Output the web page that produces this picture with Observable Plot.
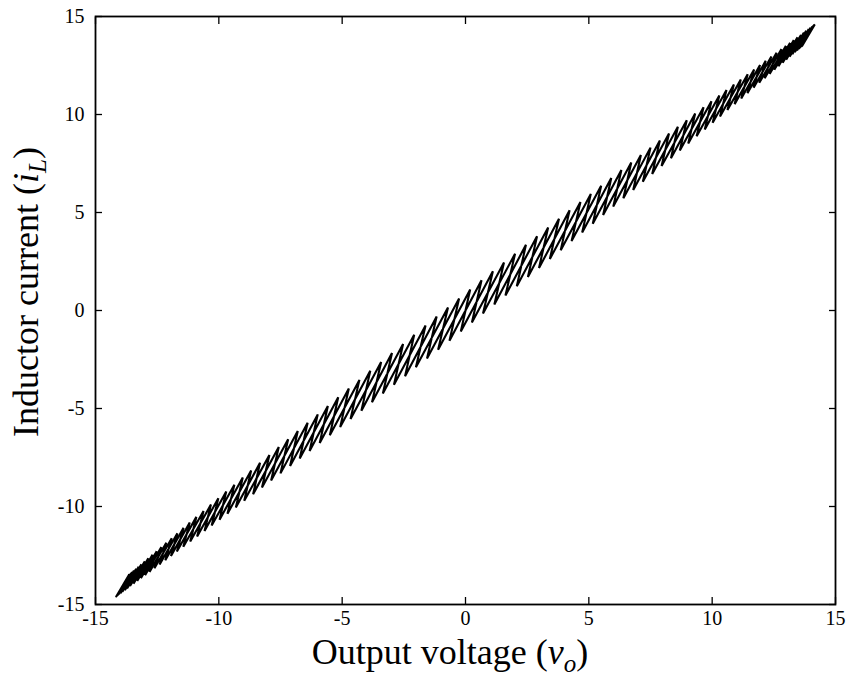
<!DOCTYPE html>
<html><head><meta charset="utf-8">
<script src="https://cdn.jsdelivr.net/npm/d3@7"></script>
<script src="https://cdn.jsdelivr.net/npm/@observablehq/plot@0.6"></script>
<style>body{margin:0;background:#fff} svg{display:block}</style>
</head><body><div id="chart"></div>
<script>
// Tick values
const xTicks = [-15, -10, -5, 0, 5, 10, 15];
const yTicks = [-15, -10, -5, 0, 5, 10, 15];

// Trajectory, rising half (vo increasing): ripple vertices (low, high) per switching cycle
const upVo = [
  -14.16, -13.64, -14.14, -13.61, -14.05, -13.51, -13.91, -13.35, -13.72, -13.14,
  -13.46, -12.86, -13.16, -12.52, -12.81, -12.13, -12.40, -11.68, -11.94, -11.18,
  -11.44, -10.62, -10.88, -10.02, -10.29, -9.37, -9.65, -8.69, -8.97, -7.95,
  -8.25, -7.19, -7.50, -6.40, -6.72, -5.58, -5.91, -4.73, -5.08, -3.86,
  -4.22, -2.98, -3.35, -2.08, -2.45, -1.17, -1.56, -0.26, -0.65, 0.65,
  0.26, 1.56, 1.17, 2.45, 2.08, 3.35, 2.98, 4.22, 3.86, 5.08,
  4.73, 5.91, 5.58, 6.72, 6.40, 7.50, 7.19, 8.25, 7.95, 8.97,
  8.69, 9.65, 9.37, 10.29, 10.02, 10.88, 10.62, 11.44, 11.18, 11.94,
  11.68, 12.40, 12.13, 12.81, 12.52, 13.16, 12.86, 13.46, 13.14, 13.72,
  13.35, 13.91, 13.51, 14.05, 13.61, 14.14, 13.64, 14.16
];
const upIL = [
  -14.59, -13.49, -14.56, -13.46, -14.48, -13.35, -14.35, -13.18, -14.18, -12.95,
  -13.94, -12.64, -13.66, -12.28, -13.34, -11.85, -12.96, -11.37, -12.53, -10.82,
  -12.05, -10.23, -11.53, -9.58, -10.97, -8.89, -10.37, -8.16, -9.71, -7.37,
  -9.03, -6.57, -8.31, -5.73, -7.55, -4.87, -6.76, -3.98, -5.95, -3.08,
  -5.11, -2.17, -4.24, -1.24, -3.35, -0.31, -2.45, 0.61, -1.54, 1.54,
  -0.61, 2.45, 0.31, 3.35, 1.24, 4.24, 2.17, 5.11, 3.08, 5.95,
  3.98, 6.76, 4.87, 7.55, 5.73, 8.31, 6.57, 9.03, 7.37, 9.71,
  8.16, 10.37, 8.89, 10.97, 9.58, 11.53, 10.23, 12.05, 10.82, 12.53,
  11.37, 12.96, 11.85, 13.34, 12.28, 13.66, 12.64, 13.94, 12.95, 14.18,
  13.18, 14.35, 13.35, 14.48, 13.46, 14.56, 13.49, 14.59
];

// Trajectory, falling half (vo decreasing): ripple vertices (high, low) per switching cycle
const downVo = [
  14.15, 13.63, 14.10, 13.56, 13.98, 13.44, 13.81, 13.25, 13.60, 13.00,
  13.31, 12.69, 12.99, 12.33, 12.61, 11.91, 12.17, 11.43, 11.70, 10.91,
  11.16, 10.32, 10.58, 9.70, 9.97, 9.03, 9.31, 8.33, 8.61, 7.57,
  7.88, 6.80, 7.11, 5.99, 6.32, 5.16, 5.50, 4.30, 4.66, 3.42,
  3.79, 2.53, 2.90, 1.62, 2.01, 0.71, 1.11, -0.19,
  0.19, -1.11, -0.71, -2.01, -1.62, -2.90, -2.53, -3.79, -3.42, -4.66,
  -4.30, -5.50, -5.16, -6.32, -5.99, -7.11, -6.80, -7.88, -7.57, -8.61,
  -8.33, -9.31, -9.03, -9.97, -9.70, -10.58, -10.32, -11.16, -10.91, -11.70,
  -11.43, -12.17, -11.91, -12.61, -12.33, -12.99, -12.69, -13.31, -13.00, -13.60,
  -13.25, -13.81, -13.44, -13.98, -13.56, -14.10, -13.63, -14.15
];
const downIL = [
  14.58, 13.48, 14.53, 13.41, 14.42, 13.27, 14.27, 13.07, 14.06, 12.80,
  13.80, 12.46, 13.50, 12.07, 13.15, 11.62, 12.74, 11.09, 12.30, 10.53,
  11.79, 9.90, 11.25, 9.23, 10.67, 8.52, 10.05, 7.77, 9.37, 6.97,
  8.67, 6.15, 7.93, 5.30, 7.17, 4.43, 6.36, 3.54, 5.53, 2.63,
  4.68, 1.71, 3.79, 0.77, 2.90, -0.15, 2.00, -1.07,
  1.07, -2.00, 0.15, -2.90, -0.77, -3.79, -1.71, -4.68, -2.63, -5.53,
  -3.54, -6.36, -4.43, -7.17, -5.30, -7.93, -6.15, -8.67, -6.97, -9.37,
  -7.77, -10.05, -8.52, -10.67, -9.23, -11.25, -9.90, -11.79, -10.53, -12.30,
  -11.09, -12.74, -11.62, -13.15, -12.07, -13.50, -12.46, -13.80, -12.80, -14.06,
  -13.07, -14.27, -13.27, -14.42, -13.41, -14.53, -13.48, -14.58
];

const xLabelMain = "Output voltage (";
const yLabelMain = "Inductor current (";

const traj = [
  ...upVo.map((v, i) => ({vo: v, iL: upIL[i]})),
  ...downVo.map((v, i) => ({vo: v, iL: downIL[i]}))
];
traj.push(traj[0]);

const font = "'Liberation Serif', 'Times New Roman', Times, serif";
const fmt = d => String(d);

const chart = Plot.plot({
  width: 848, height: 677,
  marginLeft: 95, marginRight: 13, marginTop: 16, marginBottom: 73,
  style: {fontFamily: font, fontSize: "20px", color: "#000", background: "#fff", overflow: "visible"},
  x: {domain: [-15, 15], label: null},
  y: {domain: [-15, 15], label: null},
  marks: [
    Plot.line(traj, {x: "vo", y: "iL", stroke: "#000", strokeWidth: 2.1, strokeLinejoin: "miter", curve: "linear"}),
    Plot.axisX(xTicks, {anchor: "bottom", tickSize: 0, tickPadding: 6, tickFormat: fmt, label: null}),
    Plot.axisY(yTicks, {anchor: "left", tickSize: 0, tickPadding: 11, tickFormat: fmt, label: null}),
    Plot.axisX(xTicks, {anchor: "bottom", tickSize: -7, tickFormat: () => "", label: null, strokeWidth: 1.3}),
    Plot.axisX(xTicks, {anchor: "top", tickSize: -7, tickFormat: () => "", label: null, strokeWidth: 1.3}),
    Plot.axisY(yTicks, {anchor: "left", tickSize: -7, tickFormat: () => "", label: null, strokeWidth: 1.3}),
    Plot.axisY(yTicks, {anchor: "right", tickSize: -7, tickFormat: () => "", label: null, strokeWidth: 1.3}),
    Plot.frame({stroke: "#000", strokeWidth: 1.8})
  ]
});

const svg = d3.select(chart);
// serif tick labels at the reference size
svg.selectAll("g").each(function() {
  const g = d3.select(this);
  if (g.attr("font-size") != null) g.attr("font-size", 20);
  if (g.attr("font-family") != null) g.attr("font-family", font);
});
svg.selectAll("text")
  .style("font-family", font).style("font-size", "20px").attr("fill", "#000");

const xs = chart.scale("x"), ys = chart.scale("y");
const cx = xs.apply(0), cy = ys.apply(0);

const xl = svg.append("text")
  .attr("x", cx - 15).attr("y", 664)
  .attr("text-anchor", "middle")
  .style("font-family", font).style("font-size", "36px").attr("fill", "#000");
xl.append("tspan").text(xLabelMain);
xl.append("tspan").style("font-style", "italic").text("v");
xl.append("tspan").style("font-style", "italic").style("font-size", "25px").attr("dy", 8).text("o");
xl.append("tspan").attr("dy", -8).text(")");

const yl = svg.append("text")
  .attr("transform", `translate(38,${cy - 18}) rotate(-90)`)
  .attr("text-anchor", "middle")
  .style("font-family", font).style("font-size", "36px").attr("fill", "#000");
yl.append("tspan").text(yLabelMain);
yl.append("tspan").style("font-style", "italic").text("i");
yl.append("tspan").style("font-style", "italic").style("font-size", "25px").attr("dy", 8).text("L");
yl.append("tspan").attr("dy", -8).text(")");

document.getElementById("chart").appendChild(chart);
</script>
</body></html>
